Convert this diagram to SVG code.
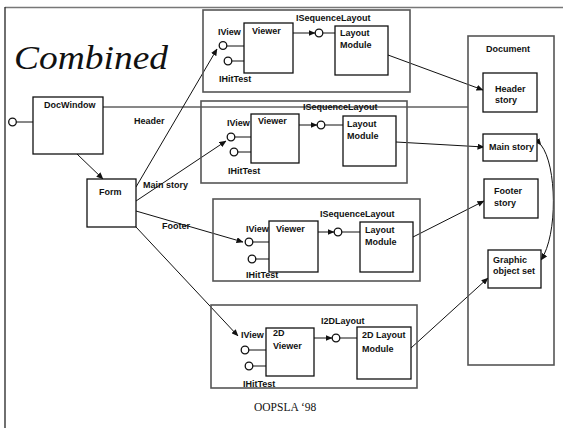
<svg xmlns="http://www.w3.org/2000/svg" width="563" height="428" viewBox="0 0 563 428">
<style>
.t{font-family:"Liberation Sans",Arial,sans-serif;font-weight:bold;font-size:9px;fill:#111}
.box{fill:#fff;stroke:#111;stroke-width:1.3}
.grp{fill:none;stroke:#555;stroke-width:1.6}
.ln{fill:none;stroke:#111;stroke-width:1}
.lol{fill:#fff;stroke:#111;stroke-width:1.3}
</style>
<defs>
<marker id="ah" markerWidth="7" markerHeight="6" refX="6.5" refY="3" orient="auto" markerUnits="userSpaceOnUse">
<path d="M0,0 L7,3 L0,6 Z" fill="#111"/>
</marker>
</defs>
<rect width="563" height="428" fill="#fff"/>
<line x1="5" y1="7.5" x2="563" y2="7.5" stroke="#777" stroke-width="1.6"/>
<line x1="5" y1="7" x2="5" y2="428" stroke="#333" stroke-width="1.4"/>
<text x="14" y="69" font-family="Liberation Serif,'Times New Roman',serif" font-style="italic" font-size="33" textLength="154" lengthAdjust="spacingAndGlyphs" fill="#111">Combined</text>

<g id="connectors">
<line class="ln" x1="103" y1="107" x2="468" y2="107"/>
<line class="ln" x1="77" y1="154" x2="103" y2="179" marker-end="url(#ah)"/>
<line class="ln" x1="136" y1="187" x2="217" y2="49" marker-end="url(#ah)"/>
<line class="ln" x1="136" y1="201" x2="226" y2="141" marker-end="url(#ah)"/>
<line class="ln" x1="136" y1="211" x2="243" y2="242" marker-end="url(#ah)"/>
<line class="ln" x1="136" y1="227" x2="238" y2="336" marker-end="url(#ah)"/>
<line class="ln" x1="388" y1="55" x2="483" y2="90" marker-end="url(#ah)"/>
<line class="ln" x1="396" y1="142" x2="484" y2="147" marker-end="url(#ah)"/>
<line class="ln" x1="413" y1="237" x2="484" y2="201" marker-end="url(#ah)"/>
<line class="ln" x1="411" y1="348" x2="488" y2="278" marker-end="url(#ah)"/>
<path class="ln" d="M541,145 C557,165 558,235 541,260" marker-start="url(#ah)" marker-end="url(#ah)"/>
<text class="t" x="134" y="124">Header</text>
<text class="t" x="143" y="188">Main story</text>
<text class="t" x="162" y="229">Footer</text>
</g>

<g id="docwindow">
<rect class="box" x="33" y="97" width="70" height="57"/>
<text class="t" x="44" y="108">DocWindow</text>
<line class="ln" x1="16" y1="122" x2="33" y2="122"/>
<circle class="lol" cx="12.5" cy="122" r="3.8"/>
</g>

<g id="form">
<rect class="box" x="87" y="179" width="49" height="48"/>
<text class="t" x="99" y="195">Form</text>
</g>

<g id="sub1">
<rect class="grp" x="203" y="10" width="207" height="82"/>
<rect class="box" x="244" y="23" width="49" height="50"/>
<text class="t" x="252" y="34">Viewer</text>
<text class="t" x="218" y="35">IView</text>
<line class="ln" x1="227" y1="46" x2="244" y2="46"/>
<circle class="lol" cx="223" cy="45.5" r="3.8"/>
<line class="ln" x1="232" y1="61" x2="244" y2="61"/>
<circle class="lol" cx="228" cy="61" r="3.8"/>
<text class="t" x="219" y="82">IHitTest</text>
<text class="t" x="296" y="21">ISequenceLayout</text>
<line class="ln" x1="293" y1="33" x2="315" y2="33" marker-end="url(#ah)"/>
<line class="ln" x1="323" y1="33" x2="335" y2="33"/>
<circle class="lol" cx="319" cy="33" r="3.8"/>
<rect class="box" x="335" y="26" width="53" height="49"/>
<text class="t" x="340" y="36">Layout</text>
<text class="t" x="340" y="48">Module</text>
</g>

<g id="sub2">
<rect class="grp" x="201" y="101" width="206" height="82"/>
<rect class="box" x="251" y="114" width="48" height="49"/>
<text class="t" x="258" y="124">Viewer</text>
<text class="t" x="227" y="126">IView</text>
<line class="ln" x1="235" y1="137" x2="251" y2="137"/>
<circle class="lol" cx="231" cy="137" r="3.8"/>
<line class="ln" x1="238" y1="152" x2="251" y2="152"/>
<circle class="lol" cx="234" cy="152" r="3.8"/>
<text class="t" x="228" y="174">IHitTest</text>
<text class="t" x="303" y="110">ISequenceLayout</text>
<line class="ln" x1="299" y1="125" x2="317" y2="125" marker-end="url(#ah)"/>
<line class="ln" x1="325" y1="125" x2="343" y2="125"/>
<circle class="lol" cx="321" cy="125" r="3.8"/>
<rect class="box" x="343" y="116" width="53" height="50"/>
<text class="t" x="347" y="127">Layout</text>
<text class="t" x="347" y="139">Module</text>
</g>

<g id="sub3">
<rect class="grp" x="213" y="199" width="207" height="82"/>
<rect class="box" x="269" y="221" width="49" height="51"/>
<text class="t" x="276" y="232">Viewer</text>
<text class="t" x="246" y="232">IView</text>
<line class="ln" x1="253" y1="242" x2="269" y2="242"/>
<circle class="lol" cx="249" cy="242" r="3.8"/>
<line class="ln" x1="256" y1="259" x2="269" y2="259"/>
<circle class="lol" cx="252" cy="259" r="3.8"/>
<text class="t" x="246" y="278">IHitTest</text>
<text class="t" x="320" y="217">ISequenceLayout</text>
<line class="ln" x1="318" y1="232" x2="334" y2="232" marker-end="url(#ah)"/>
<line class="ln" x1="342" y1="232" x2="360" y2="232"/>
<circle class="lol" cx="338" cy="232" r="3.8"/>
<rect class="box" x="360" y="222" width="53" height="50"/>
<text class="t" x="365" y="233">Layout</text>
<text class="t" x="365" y="245">Module</text>
</g>

<g id="sub4">
<rect class="grp" x="211" y="305" width="206" height="83"/>
<rect class="box" x="266" y="328" width="48" height="48"/>
<text class="t" x="273" y="336">2D</text>
<text class="t" x="273" y="349">Viewer</text>
<text class="t" x="241" y="338">IView</text>
<line class="ln" x1="249" y1="350" x2="266" y2="350"/>
<circle class="lol" cx="245" cy="350" r="3.8"/>
<line class="ln" x1="253" y1="366" x2="266" y2="366"/>
<circle class="lol" cx="249" cy="366" r="3.8"/>
<text class="t" x="243" y="387">IHitTest</text>
<text class="t" x="321" y="324">I2DLayout</text>
<line class="ln" x1="314" y1="338" x2="332" y2="338" marker-end="url(#ah)"/>
<line class="ln" x1="340" y1="338" x2="357" y2="338"/>
<circle class="lol" cx="336" cy="338" r="3.8"/>
<rect class="box" x="357" y="327" width="54" height="52"/>
<text class="t" x="362" y="338">2D Layout</text>
<text class="t" x="362" y="352">Module</text>
</g>

<g id="document">
<rect class="grp" x="468" y="36" width="86" height="329"/>
<text class="t" x="486" y="52">Document</text>
</g>
<g id="header-story">
<rect class="box" x="483" y="73" width="54" height="39"/>
<text class="t" x="495" y="92">Header</text>
<text class="t" x="495" y="103">story</text>
</g>
<g id="main-story">
<rect class="box" x="483" y="134" width="54" height="27"/>
<text class="t" x="489" y="150">Main story</text>
</g>
<g id="footer-story">
<rect class="box" x="484" y="179" width="54" height="39"/>
<text class="t" x="494" y="194">Footer</text>
<text class="t" x="494" y="206">story</text>
</g>
<g id="graphic-object-set">
<rect class="box" x="488" y="250" width="53" height="38"/>
<text class="t" x="493" y="263">Graphic</text>
<text class="t" x="493" y="274">object set</text>
</g>

<text x="254" y="411" font-family="Liberation Serif,'Times New Roman',serif" font-size="11.5" fill="#111">OOPSLA ‘98</text>
</svg>
